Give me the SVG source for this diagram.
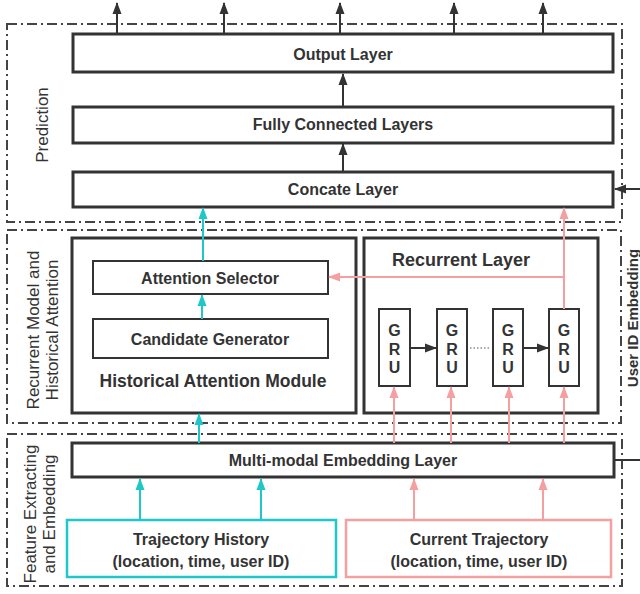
<svg xmlns="http://www.w3.org/2000/svg" width="640" height="594" viewBox="0 0 640 594">
<style>
.bg{fill:#fff}
.region{fill:none;stroke:#444;stroke-width:2;stroke-dasharray:10,4,2,4}
.box{fill:#fff;stroke:#333;stroke-width:3}
.ibox{fill:#fff;stroke:#333;stroke-width:2}
.lbl{font-family:"Liberation Sans",Arial,sans-serif;font-weight:bold;font-size:16px;fill:#333;text-anchor:middle}
.rlbl{font-family:"Liberation Sans",Arial,sans-serif;font-size:17px;fill:#333;text-anchor:middle}
.gru{font-family:"Liberation Sans",Arial,sans-serif;font-weight:bold;font-size:16px;fill:#333;text-anchor:middle}
.dk{stroke:#333;stroke-width:2;fill:none}
.cy{stroke:#1ec8c8;stroke-width:2;fill:none}
.pk{stroke:#f4a0a0;stroke-width:2;fill:none}
</style>
<defs>
<marker id="ad" markerUnits="userSpaceOnUse" markerWidth="12" markerHeight="12" viewBox="0 0 12 12" refX="11" refY="6" orient="auto"><path d="M0,1.5 L12,6 L0,10.5 Z" fill="#333"/></marker>
<marker id="ac" markerUnits="userSpaceOnUse" markerWidth="12" markerHeight="12" viewBox="0 0 12 12" refX="11" refY="6" orient="auto"><path d="M0,1.5 L12,6 L0,10.5 Z" fill="#1ec8c8"/></marker>
<marker id="ap" markerUnits="userSpaceOnUse" markerWidth="12" markerHeight="12" viewBox="0 0 12 12" refX="11" refY="6" orient="auto"><path d="M0,1.5 L12,6 L0,10.5 Z" fill="#f4a0a0"/></marker>
</defs>
<rect class="bg" x="0" y="0" width="640" height="594"/>

<g id="regions">
<rect class="region" x="7" y="24" width="615" height="198"/>
<rect class="region" x="7" y="230" width="614" height="193"/>
<rect class="region" x="7" y="434" width="615" height="152"/>
<text class="rlbl" transform="translate(48,125) rotate(-90)">Prediction</text>
<text class="rlbl" transform="translate(39,330) rotate(-90)">Recurrent Model and</text>
<text class="rlbl" transform="translate(58,330) rotate(-90)">Historical Attention</text>
<text class="rlbl" transform="translate(36,514) rotate(-90)">Feature Extracting</text>
<text class="rlbl" transform="translate(55,514) rotate(-90)">and Embedding</text>
<text class="lbl" style="font-size:15px" transform="translate(638,318) rotate(-90)">User ID Embedding</text>
</g>

<g id="output-layer">
<rect class="box" x="73" y="34" width="540" height="38"/>
<text class="lbl" x="343" y="60">Output Layer</text>
</g>
<g id="fc-layers">
<rect class="box" x="73" y="107" width="540" height="36"/>
<text class="lbl" x="343" y="130">Fully Connected Layers</text>
</g>
<g id="concate-layer">
<rect class="box" x="73" y="172" width="540" height="35"/>
<text class="lbl" x="343" y="195">Concate Layer</text>
</g>

<g id="historical-attention-module">
<rect class="box" x="72" y="238" width="284" height="175"/>
<text class="lbl" style="font-size:17.5px" x="213" y="387">Historical Attention Module</text>
</g>
<g id="attention-selector">
<rect class="ibox" x="93" y="261" width="235" height="33"/>
<text class="lbl" x="210" y="284">Attention Selector</text>
</g>
<g id="candidate-generator">
<rect class="ibox" x="93" y="319" width="235" height="39"/>
<text class="lbl" x="210" y="345">Candidate Generator</text>
</g>

<g id="recurrent-layer">
<rect class="box" x="364" y="238" width="234" height="175"/>
<text class="lbl" style="font-size:18px" x="461" y="266">Recurrent Layer</text>
</g>
<g id="gru1">
<rect class="ibox" x="379" y="309" width="31" height="77"/>
<text class="gru" x="394.5" y="336">G</text><text class="gru" x="394.5" y="355">R</text><text class="gru" x="394.5" y="373">U</text>
</g>
<g id="gru2">
<rect class="ibox" x="437" y="309" width="30" height="77"/>
<text class="gru" x="452" y="336">G</text><text class="gru" x="452" y="355">R</text><text class="gru" x="452" y="373">U</text>
</g>
<g id="gru3">
<rect class="ibox" x="493" y="309" width="30" height="77"/>
<text class="gru" x="508" y="336">G</text><text class="gru" x="508" y="355">R</text><text class="gru" x="508" y="373">U</text>
</g>
<g id="gru4">
<rect class="ibox" x="549" y="309" width="30" height="77"/>
<text class="gru" x="564" y="336">G</text><text class="gru" x="564" y="355">R</text><text class="gru" x="564" y="373">U</text>
</g>

<g id="multimodal-embedding">
<rect class="box" x="72" y="443" width="542" height="34"/>
<text class="lbl" x="343" y="466">Multi-modal Embedding Layer</text>
</g>
<g id="trajectory-history">
<rect x="67" y="520" width="269" height="57" fill="#fff" stroke="#1ec8c8" stroke-width="2.5"/>
<text class="lbl" x="201" y="545">Trajectory History</text>
<text class="lbl" x="201" y="567">(location, time, user ID)</text>
</g>
<g id="current-trajectory">
<rect x="346" y="520" width="265" height="57" fill="#fff" stroke="#f4a0a0" stroke-width="2.5"/>
<text class="lbl" x="479" y="545">Current Trajectory</text>
<text class="lbl" x="479" y="567">(location, time, user ID)</text>
</g>

<g id="connectors">
<line class="dk" x1="117" y1="34" x2="117" y2="3" marker-end="url(#ad)"/>
<line class="dk" x1="224" y1="34" x2="224" y2="3" marker-end="url(#ad)"/>
<line class="dk" x1="340" y1="34" x2="340" y2="3" marker-end="url(#ad)"/>
<line class="dk" x1="454" y1="34" x2="454" y2="3" marker-end="url(#ad)"/>
<line class="dk" x1="543" y1="34" x2="543" y2="3" marker-end="url(#ad)"/>
<line class="dk" x1="343" y1="107" x2="343" y2="74" marker-end="url(#ad)"/>
<line class="dk" x1="343" y1="172" x2="343" y2="144" marker-end="url(#ad)"/>
<line class="dk" x1="640" y1="189" x2="615" y2="189" marker-end="url(#ad)"/>
<line class="dk" x1="615" y1="460" x2="640" y2="460"/>
<line class="dk" x1="410" y1="348" x2="436" y2="348" marker-end="url(#ad)"/>
<line class="dk" x1="523" y1="348" x2="548" y2="348" marker-end="url(#ad)"/>
<line x1="470" y1="348" x2="491" y2="348" stroke="#555" stroke-width="1.2" stroke-dasharray="1.5,2"/>

<line class="cy" x1="140" y1="520" x2="140" y2="479" marker-end="url(#ac)"/>
<line class="cy" x1="261" y1="520" x2="261" y2="479" marker-end="url(#ac)"/>
<line class="cy" x1="199" y1="443" x2="199" y2="414" marker-end="url(#ac)"/>
<line class="cy" x1="202" y1="319" x2="202" y2="295" marker-end="url(#ac)"/>
<line class="cy" x1="203" y1="261" x2="203" y2="208" marker-end="url(#ac)"/>

<line class="pk" x1="414" y1="520" x2="414" y2="479" marker-end="url(#ap)"/>
<line class="pk" x1="543" y1="520" x2="543" y2="479" marker-end="url(#ap)"/>
<line class="pk" x1="394" y1="443" x2="394" y2="387" marker-end="url(#ap)"/>
<line class="pk" x1="451" y1="443" x2="451" y2="387" marker-end="url(#ap)"/>
<line class="pk" x1="509" y1="443" x2="509" y2="387" marker-end="url(#ap)"/>
<line class="pk" x1="564" y1="443" x2="564" y2="387" marker-end="url(#ap)"/>
<line class="pk" x1="564" y1="309" x2="564" y2="208" marker-end="url(#ap)"/>
<line class="pk" x1="564" y1="277" x2="329" y2="277" marker-end="url(#ap)"/>
</g>
</svg>
